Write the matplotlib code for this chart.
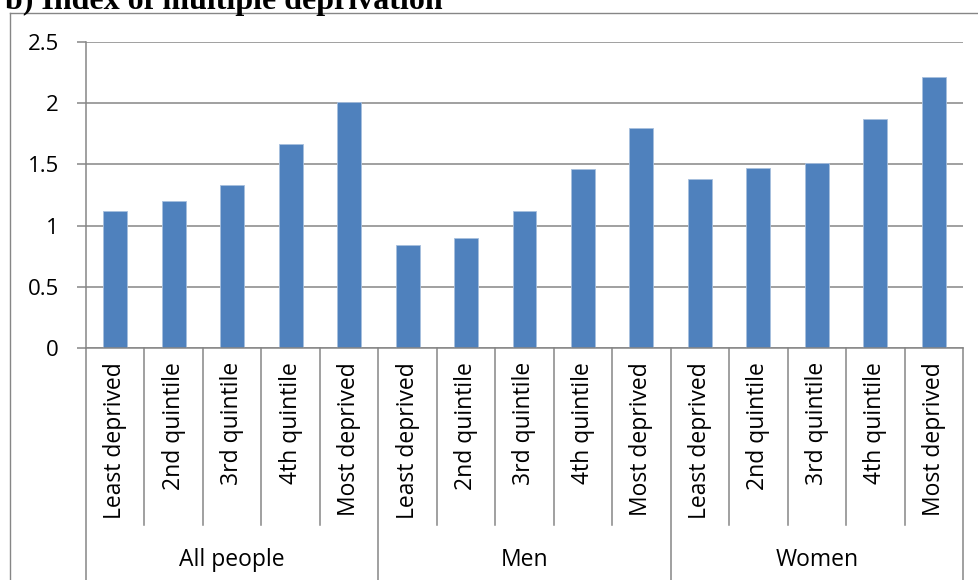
import matplotlib
matplotlib.use("Agg")
from matplotlib import pyplot as plt
from matplotlib import transforms
from matplotlib.lines import Line2D

groups = ["All people", "Men", "Women"]
quintiles = ["Least deprived", "2nd quintile", "3rd quintile", "4th quintile", "Most deprived"]
all_people = [1.12, 1.20, 1.33, 1.67, 2.01]
men = [0.84, 0.90, 1.12, 1.46, 1.80]
women = [1.38, 1.47, 1.51, 1.87, 2.21]
yticks = [0, 0.5, 1, 1.5, 2, 2.5]

plt.rcParams['font.family'] = ['Open Sans', 'DejaVu Sans']
grid_c = '#868686'
bar_c = '#4F81BD'
fs = 16.5

fig = plt.figure(figsize=(9.79, 5.80), dpi=100)
ax = fig.add_axes([86 / 979, 1 - 348 / 580, (963 - 86) / 979, (348 - 42) / 580])

values = all_people + men + women
n = len(values)
xs = [i + 0.5 for i in range(n)]
ax.bar(xs, values, width=0.41, color=bar_c, edgecolor='#A7BFDE', linewidth=0.6, zorder=3)

ax.set_xlim(0, n)
ax.set_ylim(0, 2.5)
ax.set_yticks(yticks)
ax.set_yticklabels([f"{t:g}" for t in yticks], fontsize=fs - 0.5)
ax.tick_params(axis='y', length=6.5, width=1.1, color=grid_c, pad=13)
ax.set_xticks([])
ax.yaxis.grid(True, color=grid_c, linewidth=1.1, zorder=0)
ax.set_axisbelow(True)
for s in ['top', 'right', 'bottom']:
    ax.spines[s].set_visible(False)
ax.spines['left'].set_color(grid_c)
ax.spines['left'].set_linewidth(1.1)

# category axis line at zero
ax.axhline(0, color=grid_c, linewidth=1.1, zorder=4, clip_on=False)

trans = transforms.blended_transform_factory(ax.transData, ax.transAxes)
h_ax = 348 - 42
cat_bot = -(525 - 348) / h_ax
grp_bot = -(585 - 348) / h_ax
for i in range(n + 1):
    bot = grp_bot if i % 5 == 0 else cat_bot
    ax.add_line(Line2D([i, i], [0, bot], transform=trans, color=grid_c,
                       linewidth=1.1, clip_on=False))

for i, x in enumerate(xs):
    ax.text(x, -(362 - 348) / h_ax, quintiles[i % 5], transform=trans, rotation=90,
            ha='center', va='top', fontsize=fs)

for g, name in enumerate(groups):
    ax.text(g * 5 + 2.5, -(560 - 348) / h_ax, name, transform=trans,
            ha='center', va='center', fontsize=fs)

# outer chart border
fig.add_artist(Line2D([10 / 979, 10 / 979], [0, 1 - 13 / 580], color=grid_c, linewidth=1.0))
fig.add_artist(Line2D([10 / 979, 1], [1 - 13 / 580, 1 - 13 / 580], color=grid_c, linewidth=1.0))

fig.text(5 / 979, 1 - 9 / 580, "b) Index of multiple deprivation", family='Liberation Serif',
         fontweight='bold', fontsize=23, ha='left', va='baseline')

fig.savefig("out.png", dpi=100)
